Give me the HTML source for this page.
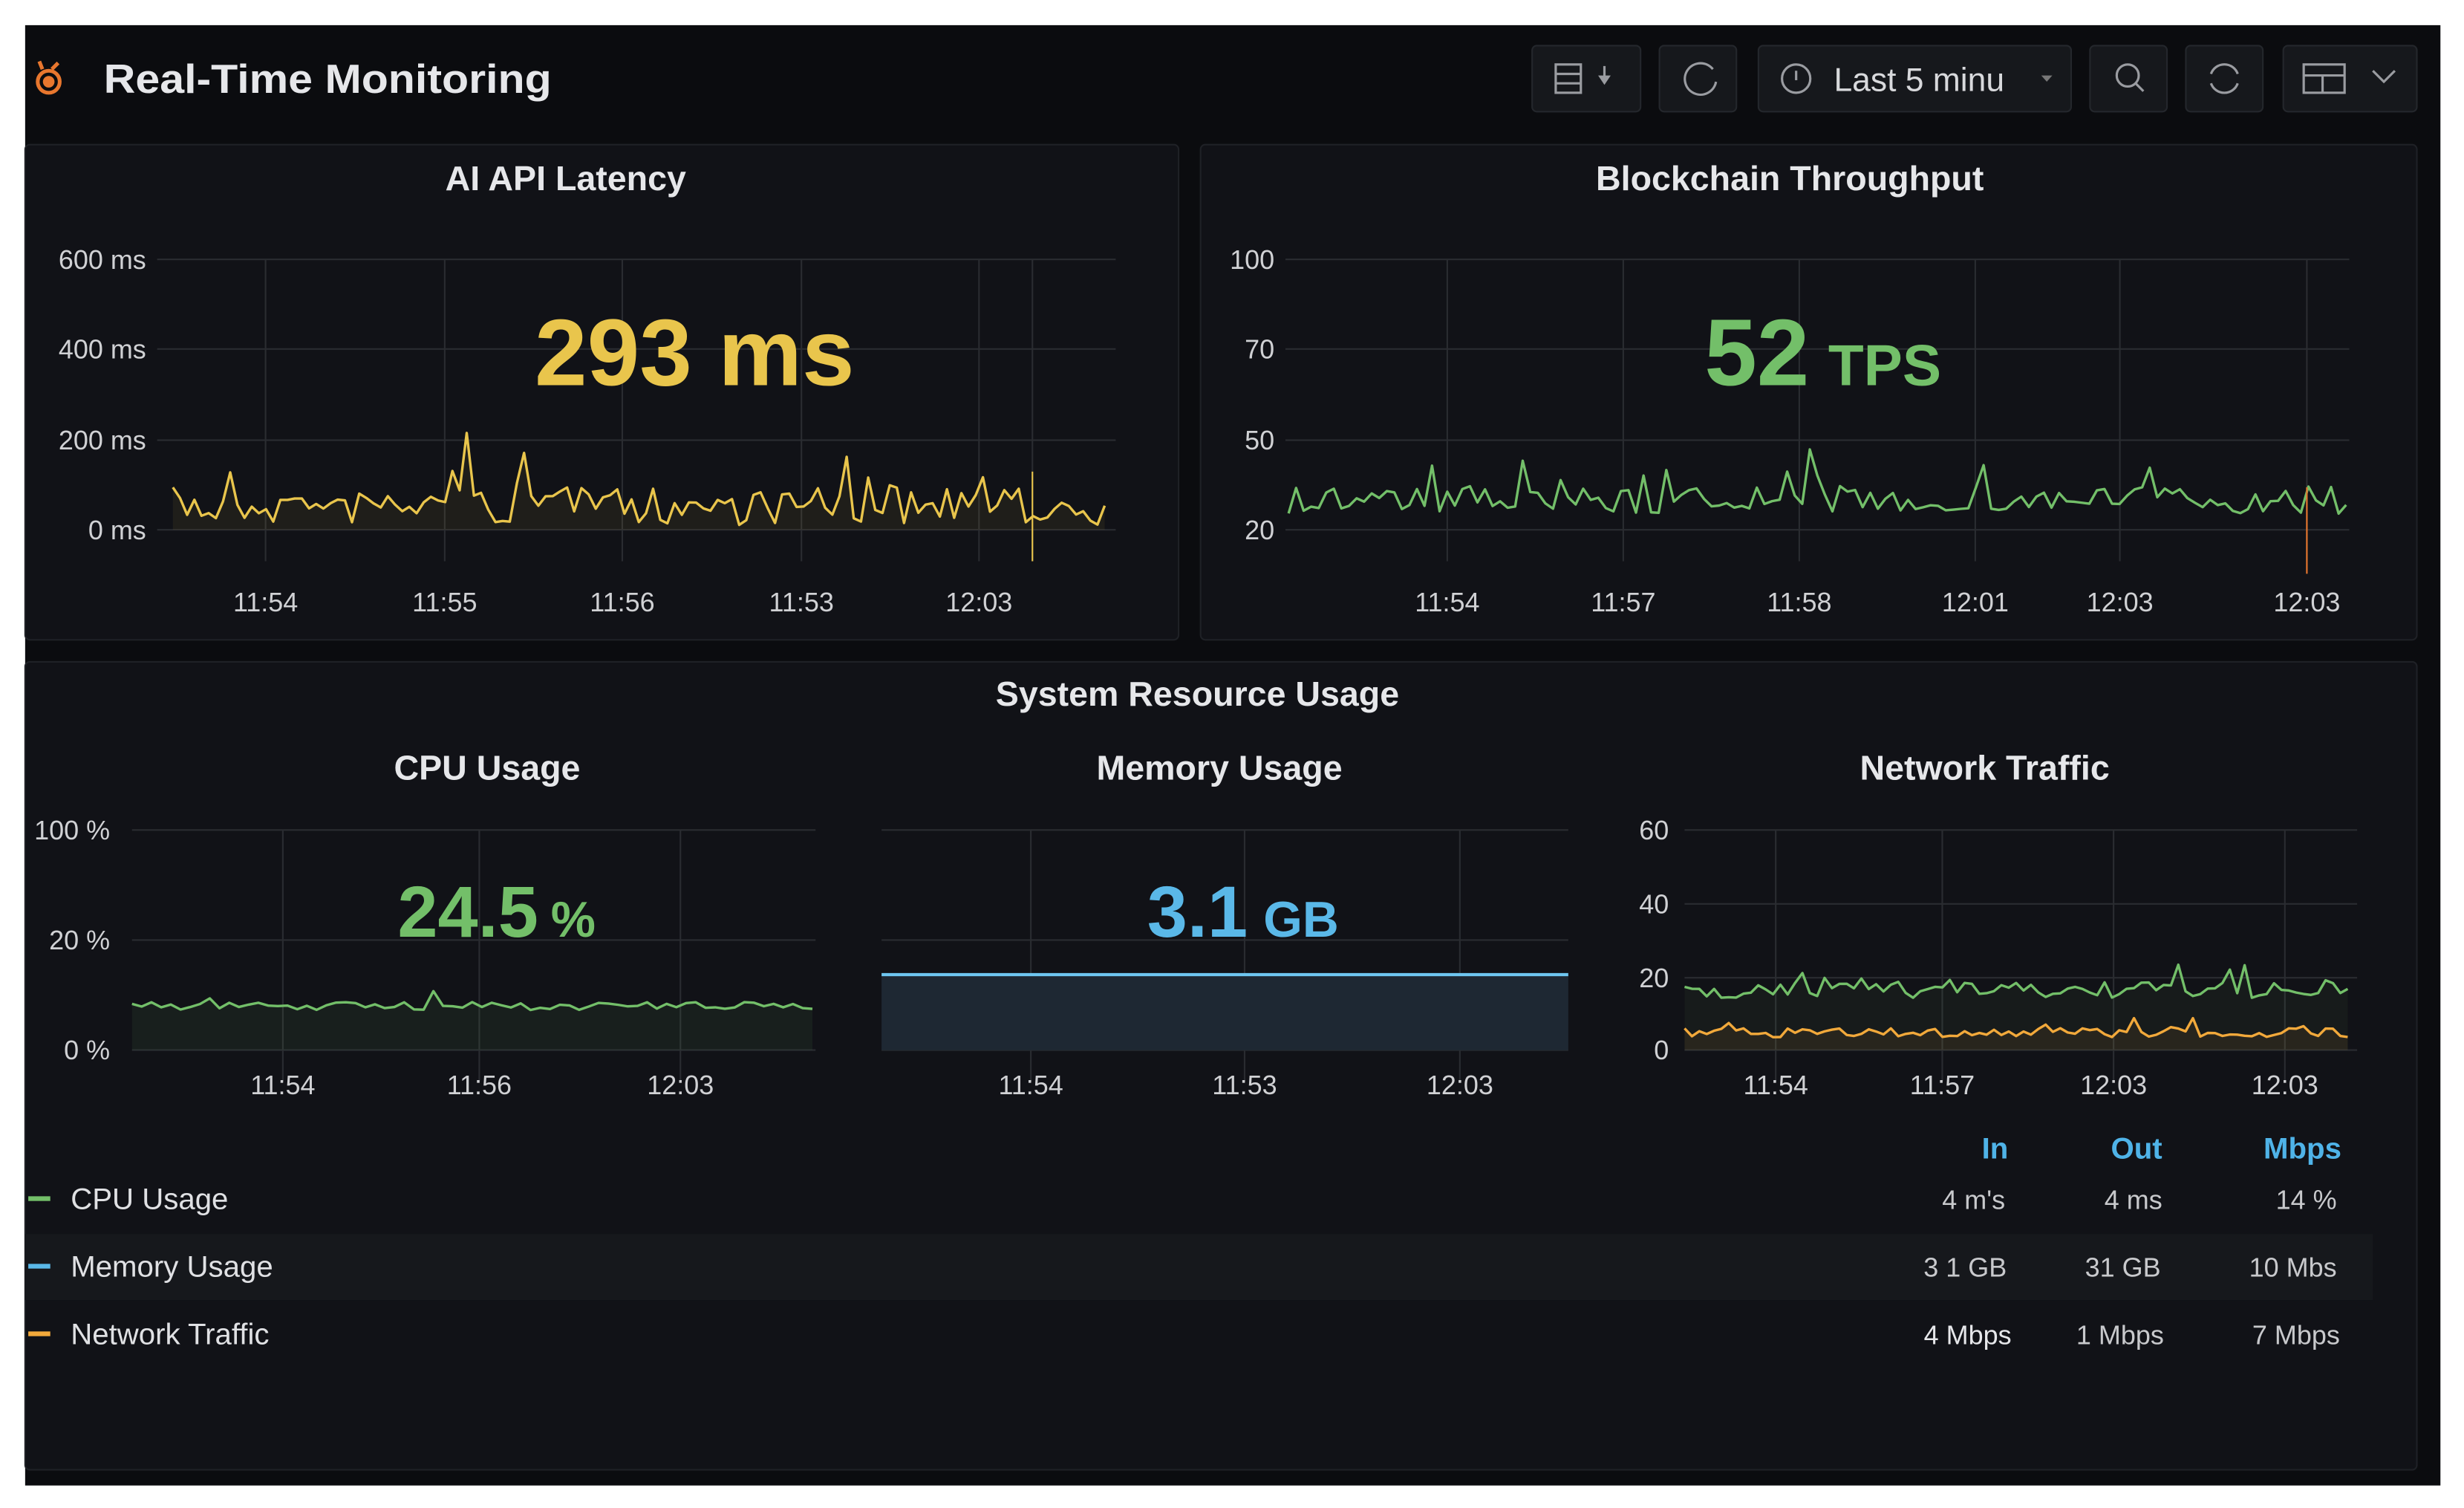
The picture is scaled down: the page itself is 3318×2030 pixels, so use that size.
<!DOCTYPE html>
<html><head><meta charset="utf-8"><style>
html,body{margin:0;padding:0;background:#fff;width:3318px;height:2030px;overflow:hidden}
svg{display:block}
text{font-family:"Liberation Sans",sans-serif}
</style></head><body>
<svg id="s" width="3318" height="2030" viewBox="0 0 1568 959.3" xmlns="http://www.w3.org/2000/svg">
<rect x="0" y="0" width="1568" height="959.3" fill="#ffffff"/>
<rect x="16" y="16" width="1537" height="929" fill="#0b0c0f"/>
<g fill="none" stroke="#e8772e" stroke-width="2.4">
<circle cx="31" cy="52" r="7"/><circle cx="31" cy="52" r="2.5" fill="#e8772e"/>
<path d="M27 44 L25 39 M33 44 L37 40"/>
</g>
<text x="66" y="59" font-size="26" fill="#e6e7ea" font-weight="bold" textLength="285" lengthAdjust="spacingAndGlyphs">Real-Time Monitoring</text>
<g fill="#16181c" stroke="#24272c" stroke-width="1">
<rect x="975" y="29" width="69" height="42" rx="3"/>
<rect x="1056" y="29" width="49" height="42" rx="3"/>
<rect x="1119" y="29" width="199" height="42" rx="3"/>
<rect x="1330" y="29" width="49" height="42" rx="3"/>
<rect x="1391" y="29" width="49" height="42" rx="3"/>
<rect x="1453" y="29" width="85" height="42" rx="3"/>
</g>
<g fill="none" stroke="#9a9ca1" stroke-width="1.5">
<rect x="990" y="41" width="16" height="18"/><path d="M990 47h16M990 53h16M1021 42v10"/>
<path d="M1090 44 a10 10 0 1 0 2 8"/>
<circle cx="1143" cy="50" r="9"/><path d="M1143 45v6"/>
<circle cx="1354" cy="48" r="7"/><path d="M1359 53l5 5"/>
<path d="M1407 47a9 9 0 0 1 17 0M1424 53a9 9 0 0 1-17 0"/>
<rect x="1466" y="41" width="26" height="18"/><path d="M1466 48h26M1478 48v11M1510 45l7 7 7-7"/>
</g>
<path d="M1017 48h8l-4 6z" fill="#9a9ca1"/>
<text x="1167" y="58" font-size="21" fill="#d8d9dc">Last 5 minu</text>
<path d="M1299 48h7l-3.5 4z" fill="#777"/>
<g fill="#111217" stroke="#1f2126" stroke-width="1">
<rect x="16" y="92" width="734" height="315" rx="3"/>
<rect x="764" y="92" width="774" height="315" rx="3"/>
<rect x="16" y="421" width="1522" height="514" rx="3"/>
</g>
<g font-size="22" fill="#e6e7ea" text-anchor="middle" font-weight="bold">
<text x="360" y="121">AI API Latency</text>
<text x="1139" y="121">Blockchain Throughput</text>
<text x="762" y="449">System Resource Usage</text>
<text x="310" y="496">CPU Usage</text>
<text x="776" y="496">Memory Usage</text>
<text x="1263" y="496">Network Traffic</text>
</g>
<g id="grid" stroke="#2a2c31" stroke-width="1"></g>
<g id="series"></g>
<g id="labels" font-size="17" fill="#d0d1d4"></g>
<text x="442" y="245" font-size="60" font-weight="bold" fill="#e9c54c" text-anchor="middle">293 ms</text>
<text x="1160" y="245" text-anchor="middle" fill="#73bf69" font-weight="bold"><tspan font-size="60">52</tspan><tspan font-size="37" dx="12">TPS</tspan></text>
<text x="316" y="596" text-anchor="middle" fill="#73bf69" font-weight="bold"><tspan font-size="46">24.5</tspan><tspan font-size="32" dx="8">%</tspan></text>
<text x="791" y="596" text-anchor="middle" fill="#5ab8e8" font-weight="bold"><tspan font-size="46">3.1</tspan><tspan font-size="32" dx="10">GB</tspan></text>
<rect x="16" y="785" width="1494" height="42" fill="#16181c"/>
<g font-size="19" fill="#4fb3e8" font-weight="bold" text-anchor="end">
<text x="1278" y="737">In</text><text x="1376" y="737">Out</text><text x="1490" y="737">Mbps</text>
</g>
<rect x="18" y="761" width="14" height="3" fill="#73bf69"/>
<rect x="18" y="804" width="14" height="3" fill="#5ab8e8"/>
<rect x="18" y="847" width="14" height="3" fill="#f2a93b"/>
<g font-size="19" fill="#e0e1e4">
<text x="45" y="769">CPU Usage</text><text x="45" y="812">Memory Usage</text><text x="45" y="855">Network Traffic</text>
</g>
<g font-size="17" fill="#c8c9cc" text-anchor="end">
<text x="1276" y="769">4 m's</text><text x="1376" y="769">4 ms</text><text x="1487" y="769">14 %</text>
<text x="1277" y="812">3 1 GB</text><text x="1375" y="812">31 GB</text><text x="1487" y="812">10 Mbs</text>
<text x="1280" y="855" fill="#e6e7ea">4 Mbps</text><text x="1377" y="855">1 Mbps</text><text x="1489" y="855">7 Mbps</text>
</g>
</svg>
<script>
var NS="http://www.w3.org/2000/svg";
function el(p,t,a,txt){var e=document.createElementNS(NS,t);for(var k in a)e.setAttribute(k,a[k]);if(txt!=null)e.textContent=txt;document.getElementById(p).appendChild(e);return e;}
var seed=7;function rnd(){seed=(seed*16807)%2147483647;return seed/2147483647;}
function chart(x0,x1,ys,yl,lx,vx,xl,xly){
 ys.forEach(function(y,i){el("grid","line",{x1:x0,x2:x1,y1:y,y2:y});el("labels","text",{x:lx,y:y+6,"text-anchor":"end"},yl[i]);});
 vx.forEach(function(x){el("grid","line",{x1:x,x2:x,y1:ys[0],y2:ys[ys.length-1]+20});});
 xl.forEach(function(t,i){el("labels","text",{x:vx[i],y:xly,"text-anchor":"middle"},t);});
}
chart(100,710,[165,222,280,337],["600 ms","400 ms","200 ms","0 ms"],93,[169,283,396,510,623,657],["11:54","11:55","11:56","11:53","12:03"],389);
chart(818,1495,[165,222,280,337],["100","70","50","20"],811,[921,1033,1145,1257,1349,1468],["11:54","11:57","11:58","12:01","12:03","12:03"],389);
chart(84,519,[528,598,668],["100 %","20 %","0 %"],70,[180,305,433],["11:54","11:56","12:03"],696);
chart(561,998,[528,598,668],["","",""],0,[656,792,929],["11:54","11:53","12:03"],696);
chart(1072,1500,[528,575,622,668],["60","40","20","0"],1062,[1130,1236,1345,1454],["11:54","11:57","12:03","12:03"],696);
function series(x0,x1,n,base,amp,spk,color,fillBot,fillCol){
 var pts=[];for(var i=0;i<=n;i++){var x=x0+(x1-x0)*i/n;var y=base+(rnd()-0.5)*amp;if(rnd()<spk)y-=amp*1.6*rnd();pts.push(x.toFixed(1)+","+y.toFixed(1));}
 if(fillBot){el("series","polygon",{points:x0+","+fillBot+" "+pts.join(" ")+" "+x1+","+fillBot,fill:fillCol});}
 el("series","polyline",{points:pts.join(" "),fill:"none",stroke:color,"stroke-width":1.6,"stroke-linejoin":"round"});
}
series(110,703,130,322,24,0.12,"#e9c54c",337,"rgba(233,197,76,0.07)");
series(820,1493,140,318,18,0.1,"#73bf69",null);
series(84,517,70,640,5,0.05,"#73bf69",668,"rgba(115,191,105,0.08)");
el("series","rect",{x:561,y:620,width:437,height:48,fill:"#1e2833"});
el("series","line",{x1:561,x2:998,y1:620,y2:620,stroke:"#6ec6f0","stroke-width":2});
series(1072,1494,90,630,10,0.08,"#73bf69",668,"rgba(115,191,105,0.06)");
series(1072,1494,90,657,6,0.06,"#f2a93b",668,"rgba(242,169,59,0.08)");
el("series","line",{x1:657,x2:657,y1:300,y2:357,stroke:"#e9c54c","stroke-width":1});
el("series","line",{x1:1468,x2:1468,y1:310,y2:365,stroke:"#e8772e","stroke-width":1});
</script>
</body></html>
